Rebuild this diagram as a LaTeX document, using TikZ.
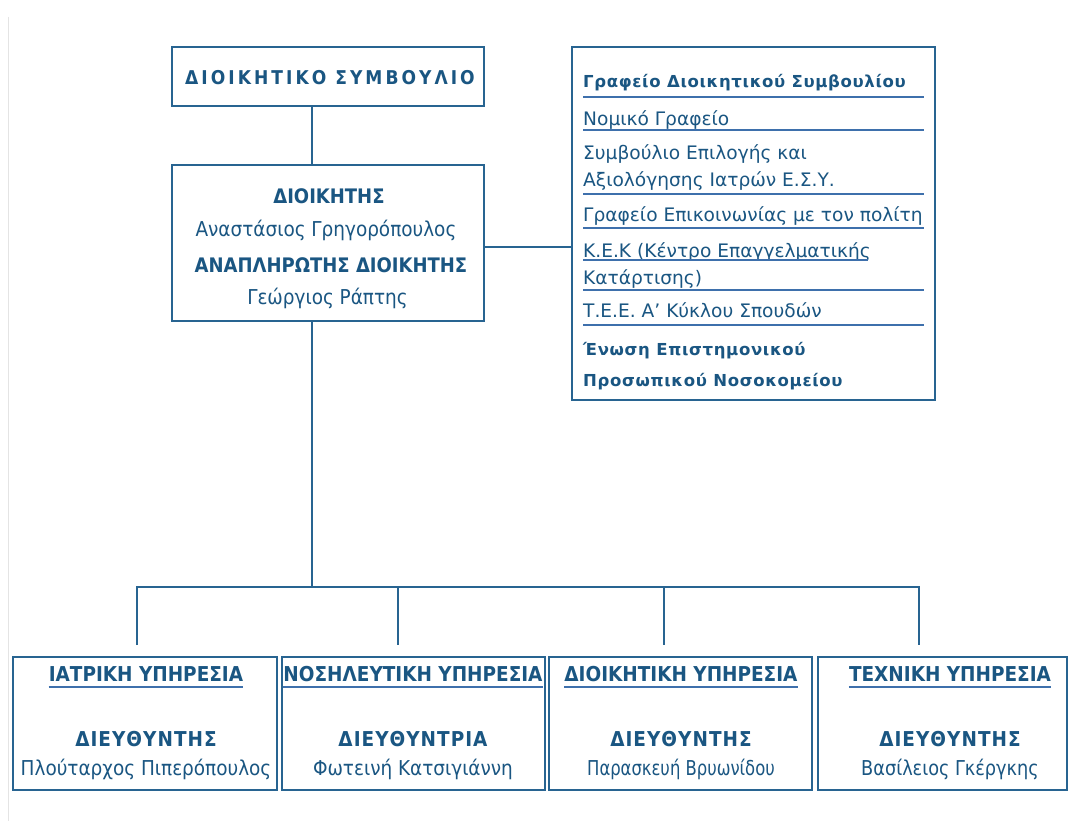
\documentclass[tikz,border=0pt]{standalone}
\usepackage{fontspec}
\setmainfont{DejaVu Sans}
\newfontfamily\condfont{DejaVu Sans Condensed}
\usetikzlibrary{positioning}

\definecolor{linecol}{RGB}{40,100,145}
\definecolor{textcol}{RGB}{26,86,130}
\definecolor{ulcol}{RGB}{62,112,172}
\definecolor{edgecol}{RGB}{228,228,228}

\newcommand{\boardfont}{\condfont\bfseries\fontsize{19}{22}\selectfont\addfontfeature{LetterSpace=16}}
\newcommand{\rolefont}{\condfont\bfseries\fontsize{20}{22}\selectfont}
\newcommand{\namefont}{\condfont\fontsize{20.5}{24}\selectfont}
\newcommand{\listfont}{\fontsize{18.6}{26.7}\selectfont}
\newcommand{\listbold}{\bfseries\fontsize{16.5}{31.7}\selectfont\addfontfeature{LetterSpace=4}}
\newcommand{\deptfont}{\condfont\bfseries\fontsize{20.5}{22}\selectfont}

\begin{document}
\begin{tikzpicture}[x=1pt,y=-1pt,
    box/.style={draw=linecol,line width=2pt,inner sep=0pt},
    conn/.style={draw=linecol,line width=2pt},
    rulel/.style={draw=ulcol,line width=1.8pt},
    txt/.style={inner sep=0pt,text=textcol,anchor=base},
    ltxt/.style={txt,anchor=base west,align=left}]
  \useasboundingbox (0,0) rectangle (1069,821);
  \fill[white] (0,0) rectangle (1069,821);
  \draw[edgecol,line width=1.5pt] (8.5,17) -- (8.5,821);

  % boxes
  \node[box,minimum width=312pt,minimum height=59pt] (board) at (328,76.5) {};
  \node[box,minimum width=312pt,minimum height=156pt] (chief) at (328,243) {};
  \node[box,minimum width=363pt,minimum height=353pt] (units) at (753.5,223.5) {};
  \node[box,minimum width=264pt,minimum height=133pt] (med) at (145,723.5) {};
  \node[box,minimum width=263pt,minimum height=133pt] (nurs) at (413.5,723.5) {};
  \node[box,minimum width=263pt,minimum height=133pt] (admin) at (680.5,723.5) {};
  \node[box,minimum width=249pt,minimum height=133pt] (tech) at (942.5,723.5) {};

  % top texts
  \node[txt] (boardt) at (330,85) {\boardfont ΔΙΟΙΚΗΤΙΚΟ ΣΥΜΒΟΥΛΙΟ};
  \node[txt] (chief1) at (329,204) {\rolefont ΔΙΟΙΚΗΤΗΣ};
  \node[txt] (chief2) at (326,236.7) {\namefont Αναστάσιος Γρηγορόπουλος};
  \node[txt] (chief3) at (331,273) {\rolefont ΑΝΑΠΛΗΡΩΤΗΣ ΔΙΟΙΚΗΤΗΣ};
  \node[txt] (chief4) at (327.5,305) {\namefont Γεώργιος Ράπτης};

  % units list (multi-line nodes sit on their last baseline)
  \node[ltxt,font=\listbold] (u1) at (583,88) {Γραφείο Διοικητικού Συμβουλίου};
  \node[ltxt,font=\listfont] (u2) at (583,126) {Νομικό Γραφείο};
  \node[ltxt,font=\listfont] (u3) at (583,186.7) {Συμβούλιο Επιλογής και\\Αξιολόγησης Ιατρών Ε.Σ.Υ.};
  \node[ltxt,font=\listfont] (u4) at (583,221.7) {Γραφείο Επικοινωνίας με τον πολίτη};
  \node[ltxt,font=\listfont] (u5) at (583,285) {Κ.Ε.Κ (Κέντρο Επαγγελματικής\\[1.3pt]Κατάρτισης)};
  \node[ltxt,font=\listfont] (u6) at (583,318) {Τ.Ε.Ε. Α’ Κύκλου Σπουδών};
  \node[ltxt,font=\listbold] (u7) at (583,386.7) {Ένωση Επιστημονικού\\Προσωπικού Νοσοκομείου};
  \foreach \y in {96.7,130,194,228,290,325}
    \draw[rulel] (583,\y) -- (924,\y);
  \draw[rulel] (583,260) -- (868,260);

  % departments
  \foreach \n/\x/\head/\role/\who/\sx in {
      med/146/ΙΑΤΡΙΚΗ ΥΠΗΡΕΣΙΑ/ΔΙΕΥΘΥΝΤΗΣ/Πλούταρχος Πιπερόπουλος/1,
      nurs/413/ΝΟΣΗΛΕΥΤΙΚΗ ΥΠΗΡΕΣΙΑ/ΔΙΕΥΘΥΝΤΡΙΑ/Φωτεινή Κατσιγιάννη/1,
      admin/681/ΔΙΟΙΚΗΤΙΚΗ ΥΠΗΡΕΣΙΑ/ΔΙΕΥΘΥΝΤΗΣ/Παρασκευή Βρυωνίδου/0.89,
      tech/950/ΤΕΧΝΙΚΗ ΥΠΗΡΕΣΙΑ/ΔΙΕΥΘΥΝΤΗΣ/Βασίλειος Γκέργκης/0.96} {
    \node[txt] (\n h) at (\x,681.7) {\deptfont \head};
    \node[txt] (\n r) at (\x,746.7) {\deptfont\addfontfeature{LetterSpace=5} \role};
    \node[txt] (\n w) at (\x,775) {\scalebox{\sx}[1]{\namefont \who}};
    \draw[rulel] ([yshift=-5.6pt]\n h.base west) -- ([yshift=-5.6pt]\n h.base east);
  }

  % connectors
  \coordinate (trunk) at (311.5,587);
  \foreach \x [count=\i] in {137,398,664,919} {
    \coordinate (b\i) at (\x,587);
    \coordinate (d\i) at (\x,645);
  }
  \draw[conn] (board.south -| trunk) -- (chief.north -| trunk);
  \draw[conn] (chief.south -| trunk) -- (trunk);
  \draw[conn] ([yshift=-4pt]chief.east) -- ([yshift=-4pt]chief.east -| units.west);
  \draw[conn] (d1) -- (b1) -- (b4) -- (d4);
  \draw[conn] (b2) -- (d2);
  \draw[conn] (b3) -- (d3);
\end{tikzpicture}
\end{document}
